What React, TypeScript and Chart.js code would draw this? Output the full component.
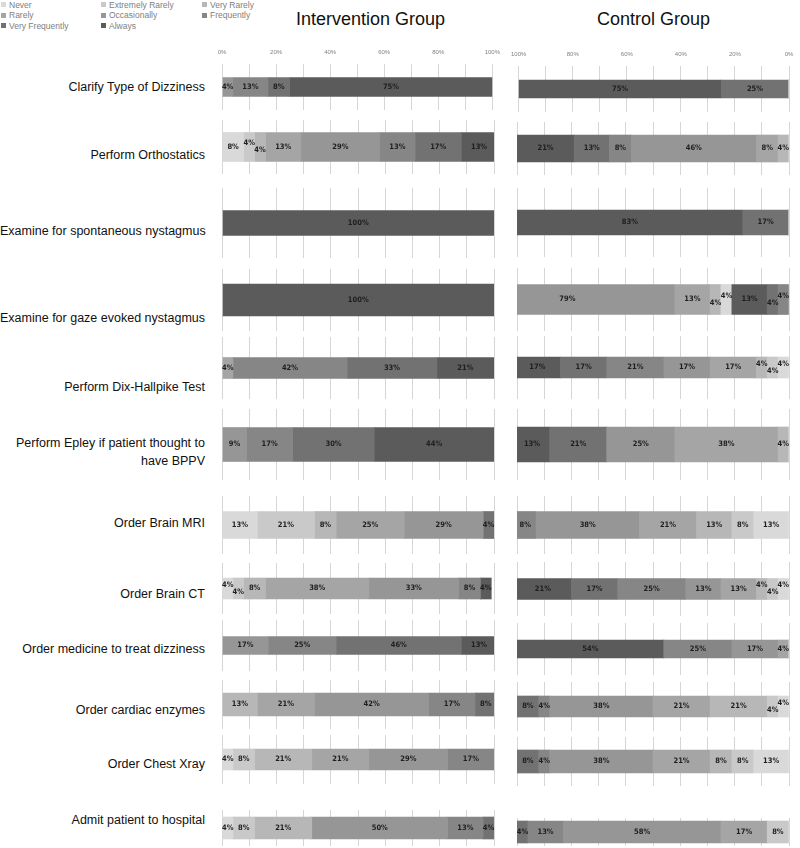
import React, { useEffect, useRef } from "react";
import { Chart, registerables } from "chart.js";
Chart.register(...registerables);

// ---------------- DATA ----------------
const categories = [
  "Never",
  "Extremely Rarely",
  "Very Rarely",
  "Rarely",
  "Occasionally",
  "Frequently",
  "Very Frequently",
  "Always",
];

const questions = [
  "Clarify Type of Dizziness",
  "Perform Orthostatics",
  "Examine for spontaneous nystagmus",
  "Examine for gaze evoked nystagmus",
  "Perform Dix-Hallpike Test",
  "Perform Epley if patient thought to have BPPV",
  "Order Brain MRI",
  "Order Brain CT",
  "Order medicine to treat dizziness",
  "Order cardiac enzymes",
  "Order Chest Xray",
  "Admit patient to hospital",
];

// values in category order: Never ... Always (percent)
const interventionValues = [
  [0, 0, 0, 0, 4, 13, 8, 75],
  [8, 4, 4, 13, 29, 13, 17, 13],
  [0, 0, 0, 0, 0, 0, 0, 100],
  [0, 0, 0, 0, 0, 0, 0, 100],
  [0, 0, 0, 4, 0, 42, 33, 21],
  [0, 0, 0, 0, 9, 17, 30, 44],
  [13, 21, 8, 25, 29, 0, 4, 0],
  [4, 4, 8, 38, 33, 8, 0, 4],
  [0, 0, 0, 0, 17, 25, 46, 13],
  [0, 0, 13, 21, 42, 17, 8, 0],
  [4, 8, 21, 21, 29, 17, 0, 0],
  [4, 8, 21, 0, 50, 13, 4, 0],
];

const controlValues = [
  [0, 0, 0, 0, 0, 0, 25, 75],
  [0, 0, 4, 8, 46, 8, 13, 21],
  [0, 0, 0, 0, 0, 0, 17, 83],
  [4, 0, 4, 13, 79, 4, 4, 13],
  [4, 4, 4, 17, 17, 21, 17, 17],
  [0, 0, 4, 38, 25, 0, 21, 13],
  [13, 8, 13, 21, 38, 8, 0, 0],
  [4, 4, 4, 13, 13, 25, 17, 21],
  [0, 0, 0, 4, 17, 25, 0, 54],
  [4, 4, 21, 21, 38, 4, 8, 0],
  [13, 8, 8, 21, 38, 4, 8, 0],
  [0, 8, 0, 17, 58, 13, 4, 0],
];

// stacking order of the series (the gaze-evoked control row is stacked in a rotated order)
const defaultOrder = [0, 1, 2, 3, 4, 5, 6, 7];
const controlGazeOrder = [5, 6, 7, 0, 1, 2, 3, 4];

const axisTicks = [0, 20, 40, 60, 80, 100];

// ---------------- STYLE / LAYOUT ----------------
const colors = ["#d9d9d9", "#c9c9c9", "#b7b7b7", "#a5a5a5", "#969696", "#868686", "#727272", "#5b5b5b"];
const FONT = "'Liberation Sans', Arial, sans-serif";
const NARROW = "'Liberation Sans Narrow', 'DejaVu Sans Condensed', 'Liberation Sans', Arial, sans-serif";
const GRID = "#d6d6d6";
const PADX = 14;
const AXIS_H = 16;

const INT_LEFT = 222;
const CTRL_LEFT = 517;
const PANEL_W = 272;

const intCenters = [87, 147, 222.5, 300, 367.5, 444, 524.5, 588.5, 645, 704.5, 759, 828];
const intHeights = [19, 29, 25, 32, 21, 34, 27, 21, 18, 23, 21, 22];
const ctrlCenters = [89, 148, 222.5, 299, 367.5, 444.5, 525, 588.5, 648.5, 706.5, 761, 832];
const ctrlHeights = [18, 27, 25, 30, 21, 35, 27, 21, 18, 21, 23, 22];
const labelCenters = [87, 155, 231, 318, 387, 452, 523, 594, 649, 710, 764, 820];

function frameHalf(centers: number[], i: number): number {
  const n = centers.length;
  if (i === 0) return Math.min(23, (centers[1] - centers[0]) / 2 - 3);
  const up = (centers[i] - centers[i - 1]) / 2 - 3;
  if (i === n - 1) return Math.min(up, 846 - centers[i]);
  const down = (centers[i + 1] - centers[i]) / 2 - 3;
  return Math.min(up, down);
}

const labelPlugin = {
  id: "segLabels",
  afterDatasetsDraw(chart: any) {
    const ctx = chart.ctx;
    ctx.save();
    ctx.font = `bold 7.5px ${NARROW}`;
    ctx.fillStyle = "#1e1e1e";
    ctx.textAlign = "center";
    ctx.textBaseline = "middle";
    const items: { t: string; x: number; y: number; narrow: boolean }[] = [];
    chart.data.datasets.forEach((ds: any, i: number) => {
      const meta = chart.getDatasetMeta(i);
      meta.data.forEach((el: any, j: number) => {
        const v = ds.data[j];
        if (!v) return;
        const p = el.getProps(["x", "y", "base"], true);
        const t = v + "%";
        const segW = Math.abs(p.x - p.base);
        items.push({ t, x: (p.x + p.base) / 2, y: p.y, narrow: ctx.measureText(t).width > segW - 1 });
      });
    });
    // stagger consecutive labels that do not fit their segment
    let run = 0;
    items.forEach((it, k) => {
      const prevNarrow = k > 0 && items[k - 1].narrow;
      const nextNarrow = k < items.length - 1 && items[k + 1].narrow;
      let dy = 0;
      if (it.narrow && (prevNarrow || nextNarrow)) {
        dy = run % 2 === 0 ? -3.5 : 3.5;
        run++;
      } else run = 0;
      ctx.fillText(it.t, it.x, it.y + dy);
    });
    ctx.restore();
  },
};

type RowProps = {
  values: number[];
  order: number[];
  reverse: boolean;
  showTicks: boolean;
  left: number;
  top: number;
  height: number;
  barH: number;
};

function BarRow({ values, order, reverse, showTicks, left, top, height, barH }: RowProps) {
  const ref = useRef<HTMLCanvasElement>(null);
  const axisH = showTicks ? AXIS_H : 0;
  const cw = PANEL_W + 2 * PADX;
  const ch = Math.round(height + axisH);
  useEffect(() => {
    const datasets = order.map((k) => ({
      label: categories[k],
      data: [values[k]],
      backgroundColor: colors[k],
      borderWidth: 0,
      barThickness: barH,
    }));
    const chart = new Chart(ref.current as HTMLCanvasElement, {
      type: "bar",
      data: { labels: [""], datasets },
      options: {
        indexAxis: "y",
        animation: false,
        responsive: false,
        maintainAspectRatio: false,
        events: [],
        layout: { padding: { left: PADX, right: PADX, top: 0, bottom: 0 } },
        plugins: { legend: { display: false }, tooltip: { enabled: false } },
        scales: {
          x: {
            type: "linear",
            min: 0,
            max: 100,
            reverse,
            stacked: true,
            position: "top",
            grid: { color: GRID, drawTicks: false, lineWidth: 1 },
            border: { display: false },
            ticks: {
              display: showTicks,
              stepSize: 10,
              autoSkip: false,
              maxRotation: 0,
              padding: 8,
              color: "#808080",
              font: { size: 6, family: FONT },
              callback: (v: any) => (axisTicks.includes(Number(v)) ? v + "%" : ""),
            },
            afterFit: (s: any) => {
              s.height = axisH;
            },
          },
          y: { type: "category", stacked: true, display: false },
        },
      } as any,
      plugins: [labelPlugin],
    });
    return () => chart.destroy();
  }, []);
  return (
    <canvas
      ref={ref}
      width={cw}
      height={ch}
      style={{ position: "absolute", left: left - PADX, top: Math.round(top - axisH), width: cw, height: ch }}
    />
  );
}

function Legend() {
  const cols = [0, 100, 201];
  return (
    <>
      {categories.map((c, i) => {
        const col = i % 3;
        const row = Math.floor(i / 3);
        return (
          <div
            key={c}
            style={{
              position: "absolute",
              left: cols[col] + 1,
              top: row * 10.7 - 1,
              height: 11,
              display: "flex",
              alignItems: "center",
              font: `8.5px ${FONT}`,
              color: "#808080",
              whiteSpace: "nowrap",
            }}
          >
            <span style={{ display: "inline-block", width: 5, height: 5, background: colors[i], marginRight: 3 }} />
            {c}
          </div>
        );
      })}
    </>
  );
}

export default function App() {
  const rows = questions.map((q, i) => {
    const ih = frameHalf(intCenters, i);
    const chh = frameHalf(ctrlCenters, i);
    const twoLine = q.length > 40;
    return (
      <React.Fragment key={q}>
        <BarRow
          values={interventionValues[i]}
          order={defaultOrder}
          reverse={false}
          showTicks={i === 0}
          left={INT_LEFT}
          top={intCenters[i] - ih}
          height={2 * ih}
          barH={intHeights[i]}
        />
        <BarRow
          values={controlValues[i]}
          order={i === 3 ? controlGazeOrder : defaultOrder}
          reverse={true}
          showTicks={i === 0}
          left={CTRL_LEFT}
          top={ctrlCenters[i] - chh}
          height={2 * chh}
          barH={ctrlHeights[i]}
        />
        <div
          style={{
            position: "absolute",
            left: 0,
            width: 205,
            top: labelCenters[i] - (twoLine ? 18 : 9),
            textAlign: "right",
            font: `12.5px ${FONT}`,
            lineHeight: "18px",
            color: "#111",
            whiteSpace: "nowrap",
          }}
        >
          {twoLine ? (
            <>
              Perform Epley if patient thought to
              <br />
              have BPPV
            </>
          ) : (
            q
          )}
        </div>
      </React.Fragment>
    );
  });

  return (
    <div
      style={{
        position: "absolute",
        left: 0,
        top: 0,
        width: 800,
        height: 848,
        overflow: "hidden",
        background: "#fff",
      }}
    >
      <Legend />
      <div style={{ position: "absolute", left: 296, top: 9, font: `18px ${FONT}`, color: "#111", whiteSpace: "nowrap" }}>
        Intervention Group
      </div>
      <div style={{ position: "absolute", left: 597, top: 9, font: `18px ${FONT}`, color: "#111", whiteSpace: "nowrap" }}>
        Control Group
      </div>
      {rows}
    </div>
  );
}
